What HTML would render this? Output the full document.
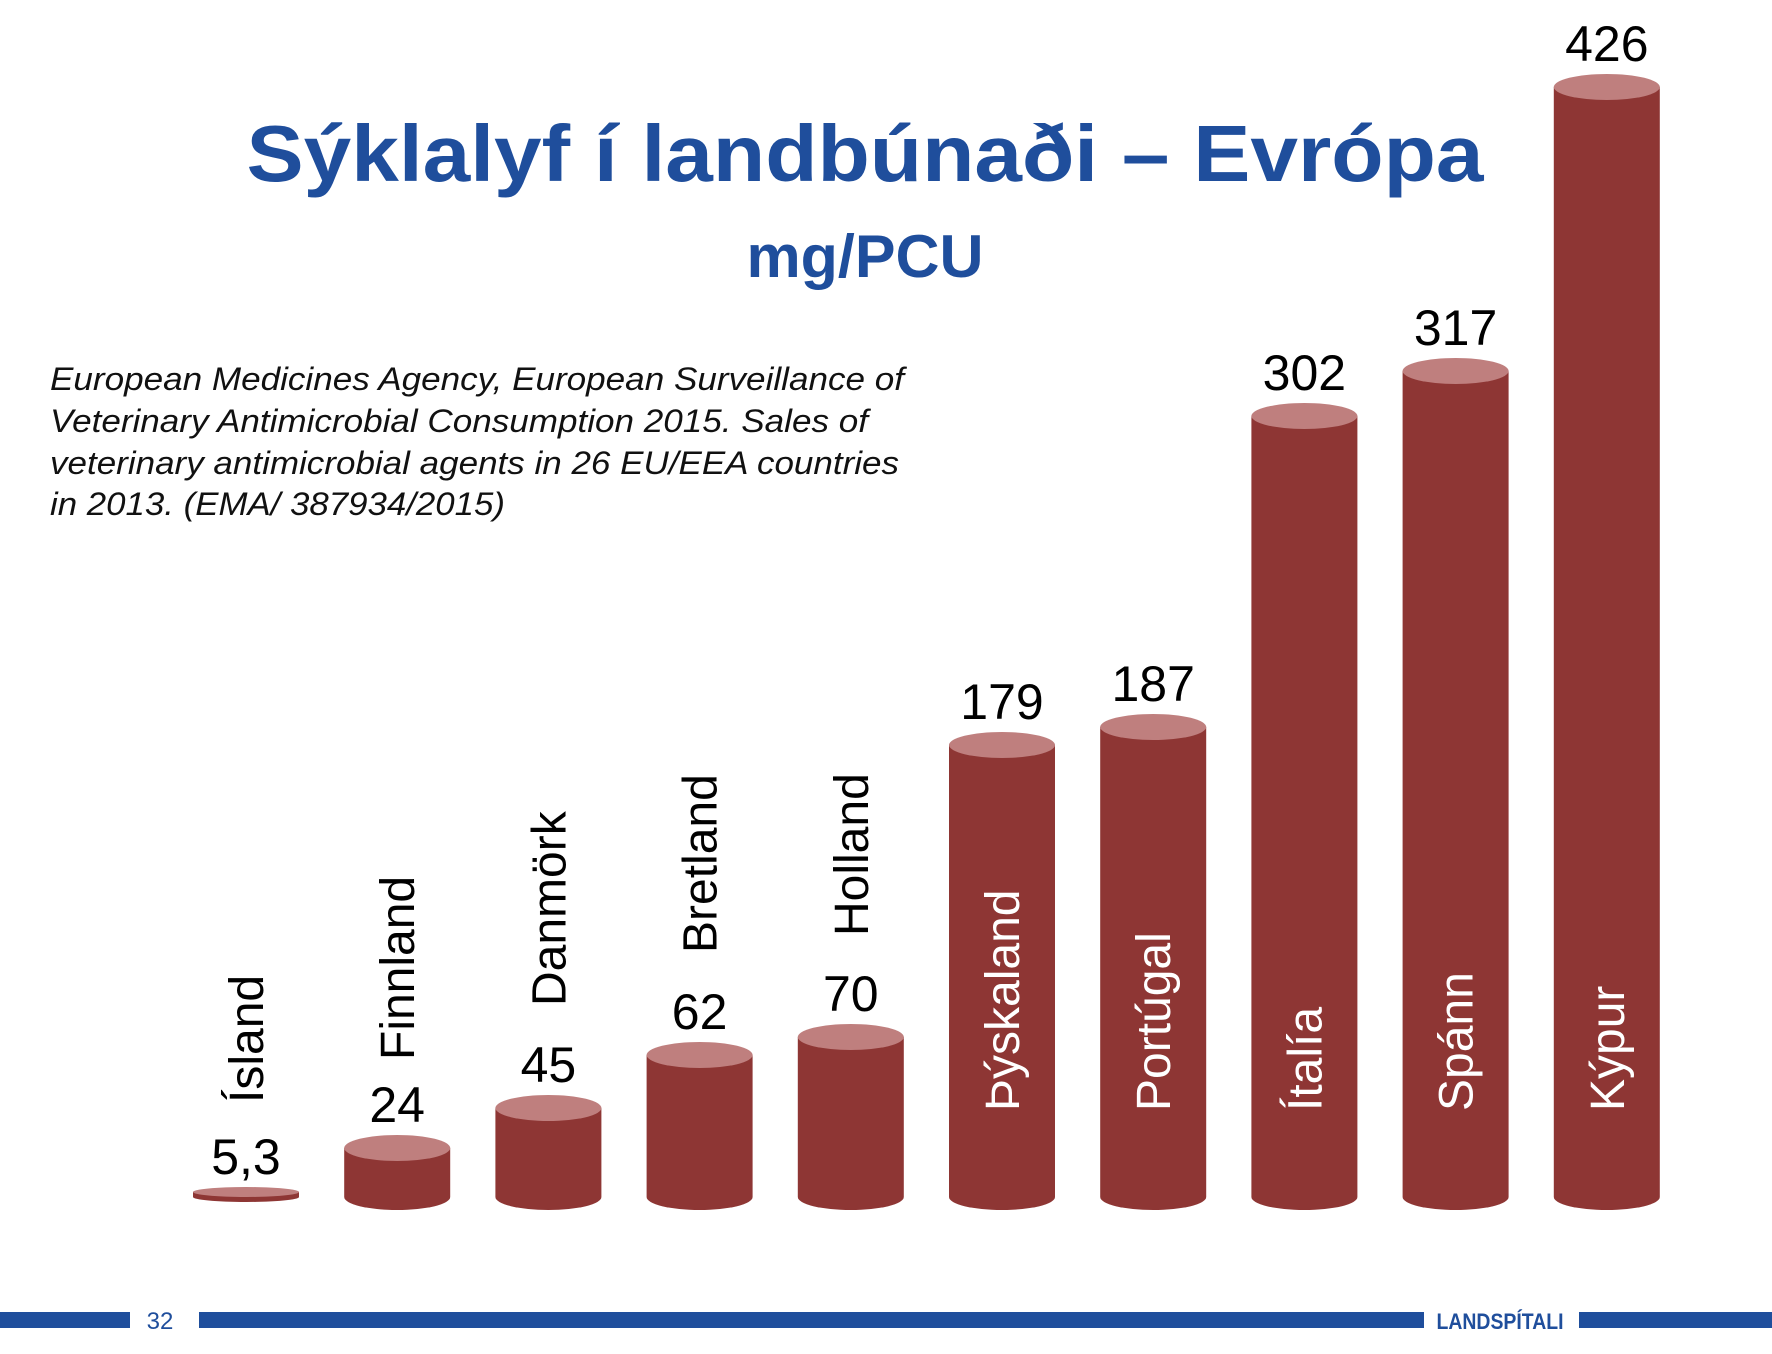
<!DOCTYPE html>
<html><head><meta charset="utf-8"><style>
html,body{margin:0;padding:0;background:#fff;}
svg{display:block;}
</style></head><body>
<svg width="1772" height="1354" viewBox="0 0 1772 1354" xmlns="http://www.w3.org/2000/svg" font-family="Liberation Sans, sans-serif">
<rect width="1772" height="1354" fill="#fff"/>
<text x="865" y="181" text-anchor="middle" font-size="80" font-weight="bold" fill="#1F4E9C" textLength="1237" lengthAdjust="spacingAndGlyphs">Sýklalyf í landbúnaði – Evrópa</text>
<text x="865" y="277" text-anchor="middle" font-size="60" font-weight="bold" fill="#1F4E9C" textLength="237" lengthAdjust="spacingAndGlyphs">mg/PCU</text>
<g font-style="italic" font-size="32" fill="#111">
<text x="50" y="390" textLength="854" lengthAdjust="spacingAndGlyphs">European Medicines Agency, European Surveillance of</text>
<text x="50" y="432" textLength="818" lengthAdjust="spacingAndGlyphs">Veterinary Antimicrobial Consumption 2015. Sales of</text>
<text x="50" y="474" textLength="849" lengthAdjust="spacingAndGlyphs">veterinary antimicrobial agents in 26 EU/EEA countries</text>
<text x="50" y="515" textLength="455" lengthAdjust="spacingAndGlyphs">in 2013. (EMA/ 387934/2015)</text>
</g>
<g id="bars"></g>
<rect x="0" y="1312" width="130" height="16" fill="#1F4E9C"/>
<rect x="199" y="1312" width="1225" height="16" fill="#1F4E9C"/>
<rect x="1579" y="1312" width="193" height="16" fill="#1F4E9C"/>
<text x="160" y="1329" text-anchor="middle" font-size="24" fill="#1F4E9C">32</text>
<text x="1500" y="1329" text-anchor="middle" font-size="22" font-weight="bold" fill="#1F4E9C" textLength="127" lengthAdjust="spacingAndGlyphs">LANDSPÍTALI</text>
</svg>
<script>
var data=[["Ísland",1201,"5,3",1103,0],["Finnland",1148,"24",1060,0],["Danmörk",1108,"45",1006,0],["Bretland",1055,"62",953,0],["Holland",1037,"70",936,0],["Þýskaland",745,"179",1111,1],["Portúgal",727,"187",1111,1],["Ítalía",416,"302",1111,1],["Spánn",371,"317",1111,1],["Kýpur",87,"426",1111,1]];
var g=document.getElementById("bars"),h="";
data.forEach(function(d,i){
 var cx=246+i*151.2,rx=53,ry=13,bot=1197,top=d[1];
 if(i==0){ry=5;top=1192;}
 h+='<path d="M'+(cx-rx)+' '+top+' L'+(cx-rx)+' '+bot+' A'+rx+' '+ry+' 0 0 0 '+(cx+rx)+' '+bot+' L'+(cx+rx)+' '+top+' Z" fill="#8E3634"/>';
 h+='<ellipse cx="'+cx+'" cy="'+top+'" rx="'+rx+'" ry="'+ry+'" fill="#BF7F7E"/>';
 h+='<text x="'+cx+'" y="'+(top-ry-13)+'" text-anchor="middle" font-size="50" fill="#000">'+d[2]+'</text>';
 h+='<text transform="translate('+(cx+17)+','+d[3]+') rotate(-90)" font-size="48" fill="'+(d[4]?'#fff':'#000')+'">'+d[0]+'</text>';
});
g.innerHTML=h;
</script>
</body></html>
